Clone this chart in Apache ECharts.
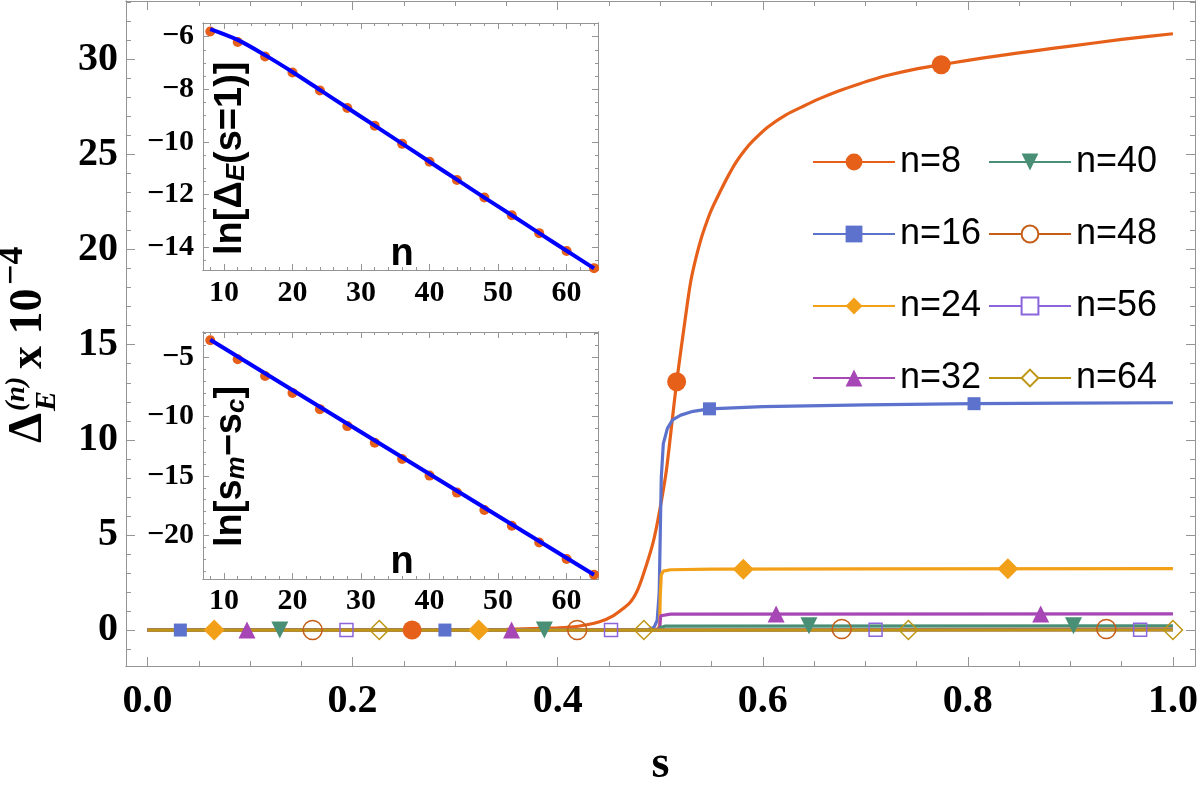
<!DOCTYPE html>
<html>
<head>
<meta charset="utf-8">
<script src="https://cdn.jsdelivr.net/npm/echarts@6/dist/echarts.min.js"></script>
<style>
  html, body { margin: 0; padding: 0; background: #fff; }
  #chart { width: 1200px; height: 788px; }
</style>
</head>
<body>
<div id="chart"></div>
<script>
// ---- main plot data: Delta_E^(n) x 10^-4 against s ----
const seriesNames = ["n=8", "n=16", "n=24", "n=32", "n=40", "n=48", "n=56", "n=64"];

const s8 = [0, 0.1, 0.2, 0.3, 0.35, 0.4, 0.42, 0.44, 0.454, 0.47, 0.477, 0.483, 0.493, 0.4995, 0.506, 0.511, 0.516, 0.526, 0.53, 0.535, 0.54, 0.545, 0.55, 0.558, 0.566, 0.574, 0.582, 0.591, 0.605, 0.623, 0.64, 0.656, 0.672, 0.688, 0.705, 0.721, 0.75, 0.774, 0.8, 0.831, 0.865, 0.9, 0.95, 1.0];
const v8 = [0, 0, 0.003, 0.01, 0.04, 0.12, 0.2, 0.42, 0.74, 1.42, 2.0, 2.84, 4.6, 6.3, 8.4, 10.7, 13.05, 17.0, 18.4, 19.6, 20.6, 21.4, 22.1, 23.0, 23.85, 24.6, 25.2, 25.75, 26.45, 27.1, 27.55, 27.95, 28.3, 28.6, 28.9, 29.15, 29.5, 29.72, 29.95, 30.2, 30.45, 30.7, 31.05, 31.35];
const s16 = [0, 0.47, 0.488, 0.494, 0.497, 0.499, 0.5, 0.501, 0.503, 0.507, 0.512, 0.52, 0.532, 0.548, 0.6, 0.7, 0.806, 0.9, 1.0];
const v16 = [0, 0, 0.02, 0.15, 0.5, 2.0, 5.0, 8.0, 9.8, 10.6, 11.05, 11.3, 11.5, 11.63, 11.75, 11.84, 11.9, 11.93, 11.95];
const s24 = [0, 0.49, 0.498, 0.4995, 0.5, 0.501, 0.503, 0.51, 0.55, 0.7, 1.0];
const v24 = [0, 0, 0.05, 0.3, 1.8, 2.9, 3.1, 3.17, 3.2, 3.22, 3.23];
const s32 = [0, 0.495, 0.4995, 0.5, 0.5005, 0.502, 0.51, 1.0];
const v32 = [0, 0, 0.1, 0.5, 0.75, 0.82, 0.84, 0.85];
const s40 = [0, 0.4995, 0.5, 0.5005, 0.505, 1.0];
const v40 = [0, 0, 0.12, 0.2, 0.21, 0.22];
const s48 = [0, 0.4995, 0.5005, 1.0];
const v48 = [0, 0, 0.05, 0.055];
const s56 = [0, 0.4995, 0.5005, 1.0];
const v56 = [0, 0, 0.012, 0.013];
const s64 = [0, 0.5, 1.0];
const v64 = [0, 0, 0.003];

// plot markers along each curve
const mk8S = [0.258, 0.516, 0.774];
const mk8V = [0, 13.05, 29.72];
const mk16S = [0.032, 0.290, 0.548, 0.806];
const mk16V = [0, 0, 11.63, 11.9];
const mk24S = [0.065, 0.323, 0.581, 0.839];
const mk24V = [0, 0, 3.2, 3.22];
const mk32S = [0.097, 0.355, 0.613, 0.871];
const mk32V = [0, 0, 0.85, 0.85];
const mk40S = [0.129, 0.387, 0.645, 0.903];
const mk40V = [0, 0, 0.22, 0.22];
const mk48S = [0.161, 0.419, 0.677, 0.935];
const mk48V = [0, 0, 0.055, 0.055];
const mk56S = [0.194, 0.452, 0.710, 0.968];
const mk56V = [0, 0, 0.013, 0.013];
const mk64S = [0.226, 0.484, 0.742, 1.0];
const mk64V = [0, 0, 0.003, 0.003];

// ---- insets: ln values against n ----
const insetN = [8, 12, 16, 20, 24, 28, 32, 36, 40, 44, 48, 52, 56, 60, 64];
const lnGap = [-5.80, -6.20, -6.75, -7.36, -8.04, -8.71, -9.38, -10.07, -10.75, -11.44, -12.11, -12.78, -13.46, -14.14, -14.79];
const lnGapFit = [-5.71, -6.12, -6.70, -7.34, -8.02, -8.70, -9.38, -10.06, -10.75, -11.43, -12.11, -12.78, -13.46, -14.13, -14.80];
const lnShift = [-3.57, -5.17, -6.57, -8.0, -9.37, -10.80, -12.20, -13.57, -14.97, -16.40, -17.86, -19.20, -20.61, -22.0, -23.32];
const shiftFitN = [8, 64];
const lnShiftFit = [-3.52, -23.32];

// ---- ticks ----
const mainXTicks = [0, 0.2, 0.4, 0.6, 0.8, 1.0];
const mainXMinor = [0.05, 0.1, 0.15, 0.25, 0.3, 0.35, 0.45, 0.5, 0.55, 0.65, 0.7, 0.75, 0.85, 0.9, 0.95];
const mainYTicks = [0, 5, 10, 15, 20, 25, 30];
const mainYMinor = [-1, 1, 2, 3, 4, 6, 7, 8, 9, 11, 12, 13, 14, 16, 17, 18, 19, 21, 22, 23, 24, 26, 27, 28, 29, 31, 32, 33];
const insetXTicks = [10, 20, 30, 40, 50, 60];
const insetXMinor = [8, 12, 14, 16, 18, 22, 24, 26, 28, 32, 34, 36, 38, 42, 44, 46, 48, 52, 54, 56, 58, 62, 64];
const gapYTicks = [-14, -12, -10, -8, -6];
const gapYMinor = [-14.5, -13.5, -13, -12.5, -11.5, -11, -10.5, -9.5, -9, -8.5, -7.5, -7, -6.5, -5.5];
const shiftYTicks = [-20, -15, -10, -5];
const shiftYMinor = [-23, -22, -21, -19, -18, -17, -16, -14, -13, -12, -11, -9, -8, -7, -6, -4, -3];

// ---- styles ----
const colors = ["#E6601A", "#5D72CC", "#F3A019", "#A647B5", "#498F75", "#C45E18", "#8B65DB", "#BE9614"];
const legendSymbols = ["circle", "rect", "diamond", "triangle", "triangle", "emptyCircle", "emptyRect", "emptyDiamond"];
const markerSymbols = ["circle", "rect", "diamond", "triangle", "triangle", "circle", "rect", "diamond"];
const markerOpen = [false, false, false, false, false, true, true, true];
const markerSizes = [19, 13, 21, 17, 17, 19, 13, 19];
const rotations = [0, 0, 0, 0, 180, 0, 0, 0];
const frameColor = "#959595";
const serif = "Liberation Serif";
const sans = "Liberation Sans";

const curveS = [s8, s16, s24, s32, s40, s48, s56, s64];
const curveV = [v8, v16, v24, v32, v40, v48, v56, v64];
const markS = [mk8S, mk16S, mk24S, mk32S, mk40S, mk48S, mk56S, mk64S];
const markV = [mk8V, mk16V, mk24V, mk32V, mk40V, mk48V, mk56V, mk64V];

const zip = (a, b) => a.map((x, i) => [x, b[i]]);
const minusFmt = (v) => (v < 0 ? "\u2212" + Math.abs(v) : String(v));

function makeAxis(grid, pos, min, max, ticks, len, label) {
  return {
    type: "value", gridIndex: grid, position: pos, min: min, max: max,
    axisLine: { show: true, onZero: false, lineStyle: { color: frameColor, width: 1 } },
    axisTick: { show: true, inside: true, length: len, customValues: ticks, lineStyle: { color: frameColor, width: 1 } },
    axisLabel: label ? Object.assign({ show: true, customValues: ticks, color: "#000" }, label) : { show: false },
    splitLine: { show: false },
  };
}

// four axes per side pair: labelled majors, mirrored majors, minors on both sides
function frameAxes(dim, grid, min, max, majors, minors, majorLen, minorLen, label) {
  const p = dim === "x" ? ["bottom", "top"] : ["left", "right"];
  return [
    makeAxis(grid, p[0], min, max, majors, majorLen, label),
    makeAxis(grid, p[1], min, max, majors, majorLen, null),
    makeAxis(grid, p[0], min, max, minors, minorLen, null),
    makeAxis(grid, p[1], min, max, minors, minorLen, null),
  ];
}

const mainLabel = { fontFamily: serif, fontWeight: "bold", fontSize: 40 };
const insetLabel = { fontFamily: serif, fontWeight: "bold", fontSize: 30, formatter: minusFmt };

const xAxes = [].concat(
  frameAxes("x", 0, -0.021, 1.0215, mainXTicks, mainXMinor, 9, 5, Object.assign({ margin: 16, formatter: (v) => v.toFixed(1) }, mainLabel)),
  frameAxes("x", 1, 6.94, 64.58, insetXTicks, insetXMinor, 6, 3, Object.assign({ margin: 8 }, insetLabel)),
  frameAxes("x", 2, 6.94, 64.58, insetXTicks, insetXMinor, 6, 3, Object.assign({ margin: 7 }, insetLabel))
);
const yAxes = [].concat(
  frameAxes("y", 0, -1.89, 33.07, mainYTicks, mainYMinor, 9, 5, Object.assign({ margin: 8 }, mainLabel)),
  frameAxes("y", 1, -14.86, -5.48, gapYTicks, gapYMinor, 6, 3, Object.assign({ margin: 9 }, insetLabel)),
  frameAxes("y", 2, -23.68, -2.87, shiftYTicks, shiftYMinor, 6, 3, Object.assign({ margin: 9 }, insetLabel))
);
xAxes[0].name = "s";
xAxes[0].nameLocation = "middle";
xAxes[0].nameGap = 76;
xAxes[0].nameTextStyle = { fontFamily: serif, fontWeight: "bold", fontSize: 46, color: "#000" };

const series = [];
seriesNames.forEach(function (nm, i) {
  series.push({
    type: "line", name: nm, xAxisIndex: 0, yAxisIndex: 0,
    data: zip(curveS[i], curveV[i]),
    showSymbol: false, symbol: legendSymbols[i], symbolRotate: rotations[i],
    smooth: i === 0 ? 0.2 : false,
    lineStyle: { width: 3.2, color: colors[i] },
    itemStyle: { color: colors[i] },
    silent: true, z: 2,
  });
});
seriesNames.forEach(function (nm, i) {
  series.push({
    type: "scatter", name: nm + " marks", xAxisIndex: 0, yAxisIndex: 0,
    data: zip(markS[i], markV[i]),
    symbol: markerSymbols[i], symbolSize: markerSizes[i], symbolRotate: rotations[i],
    itemStyle: markerOpen[i]
      ? { color: "rgba(0,0,0,0)", borderColor: colors[i], borderWidth: 1.5, opacity: 1 }
      : { color: colors[i], opacity: 1 },
    silent: true, z: 3,
  });
});
// inset 1
series.push({ type: "scatter", name: "gap pts", xAxisIndex: 4, yAxisIndex: 4, data: zip(insetN, lnGap),
  symbolSize: 10, itemStyle: { color: colors[0], opacity: 1 }, silent: true, z: 4 });
series.push({ type: "line", name: "gap fit", xAxisIndex: 4, yAxisIndex: 4, data: zip(insetN, lnGapFit),
  showSymbol: false, smooth: 0.3, lineStyle: { width: 4, color: "#0000FF" }, silent: true, z: 5 });
// inset 2
series.push({ type: "scatter", name: "shift pts", xAxisIndex: 8, yAxisIndex: 8, data: zip(insetN, lnShift),
  symbolSize: 10, itemStyle: { color: colors[0], opacity: 1 }, silent: true, z: 4 });
series.push({ type: "line", name: "shift fit", xAxisIndex: 8, yAxisIndex: 8, data: zip(shiftFitN, lnShiftFit),
  showSymbol: false, lineStyle: { width: 4, color: "#0000FF" }, silent: true, z: 5 });

const legendBase = {
  orient: "vertical", top: 139, itemWidth: 82, itemHeight: 21, itemGap: 36,
  selectedMode: false, textStyle: { fontFamily: sans, fontSize: 36, color: "#000" },
};

const subStyle = { fontFamily: sans, fontWeight: "bold", fontStyle: "italic", fontSize: 26, lineHeight: 12, verticalAlign: "bottom", fill: "#000" };
const bigStyle = { fontFamily: sans, fontWeight: "bold", fontSize: 38, fill: "#000" };

const option = {
  animation: false,
  backgroundColor: "#fff",
  grid: [
    { left: 126, top: 1, width: 1069, height: 665, outerBoundsMode: "none" },
    { left: 203, top: 23, width: 395, height: 247, outerBoundsMode: "none" },
    { left: 203, top: 332, width: 395, height: 247, outerBoundsMode: "none" },
  ],
  xAxis: xAxes,
  yAxis: yAxes,
  legend: [
    Object.assign({ left: 807, data: seriesNames.slice(0, 4) }, legendBase),
    Object.assign({ left: 983, data: seriesNames.slice(4) }, legendBase),
  ],
  graphic: [
    // main y-axis title
    {
      type: "group", x: 43, y: 443, rotation: Math.PI / 2,
      children: [
        { type: "text", style: { text: "\u0394", x: 0, y: -14, font: "bold 48px \"" + serif + "\"", align: "left", verticalAlign: "middle", fill: "#000" } },
        { type: "text", style: { text: "E", x: 32, y: 4, font: "italic bold 30px \"" + serif + "\"", align: "left", verticalAlign: "middle", fill: "#000" } },
        { type: "text", style: { text: "(n)", x: 32, y: -26, font: "italic bold 28px \"" + serif + "\"", align: "left", verticalAlign: "middle", fill: "#000" } },
        { type: "text", style: { text: "x 10", x: 74, y: -14, font: "bold 46px \"" + serif + "\"", align: "left", verticalAlign: "middle", fill: "#000" } },
        { type: "text", style: { text: "\u22124", x: 158, y: -30, font: "bold 36px \"" + serif + "\"", align: "left", verticalAlign: "middle", fill: "#000" } },
      ],
    },
    // inset titles
    {
      type: "text", x: 231, y: 255, rotation: Math.PI / 2,
      style: { text: "{a|ln[\u0394}{b|E}{a|(s=1)]}", rich: { a: bigStyle, b: subStyle }, align: "left", verticalAlign: "middle" },
    },
    {
      type: "text", x: 231, y: 547, rotation: Math.PI / 2,
      style: { text: "{a|ln[s}{b|m}{a|\u2212s}{b|c}{a|]}", rich: { a: bigStyle, b: subStyle }, align: "left", verticalAlign: "middle" },
    },
    { type: "text", x: 402, y: 255, style: { text: "n", font: "bold 38px \"" + sans + "\"", align: "center", verticalAlign: "middle", fill: "#000" } },
    { type: "text", x: 402, y: 563, style: { text: "n", font: "bold 38px \"" + sans + "\"", align: "center", verticalAlign: "middle", fill: "#000" } },
  ],
  series: series,
};

const myChart = echarts.init(document.getElementById("chart"), null, { renderer: "canvas" });
myChart.setOption(option);
</script>
</body>
</html>
